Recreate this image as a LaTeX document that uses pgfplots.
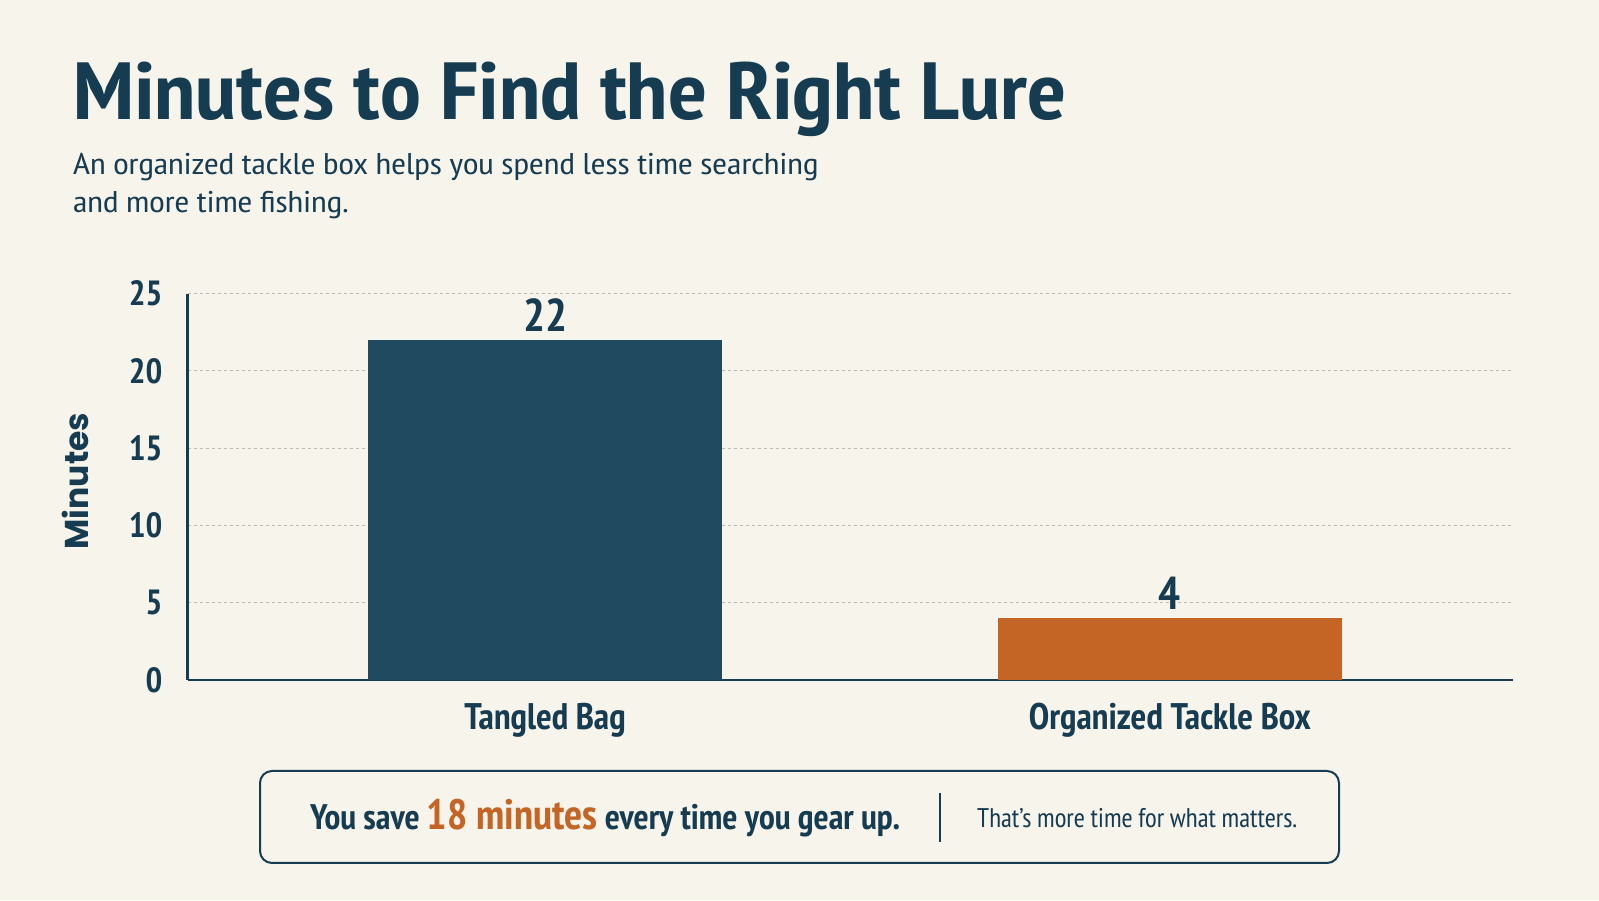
\documentclass[border=0pt]{standalone}
\usepackage{fontspec}
\usepackage{graphicx}
\usepackage{pgfplots}
\pgfplotsset{compat=1.18}
\IfFontExistsTF{PT Sans Narrow}{\setmainfont{PT Sans Narrow}}{\setmainfont{Fira Sans}}
\newfontfamily\labelfont{Poppins}
\definecolor{bg}{HTML}{F7F4EC}
\definecolor{barnavy}{HTML}{1F4A60}
\definecolor{textnavy}{HTML}{163C52}
\definecolor{barorange}{HTML}{C46425}
\definecolor{gridc}{HTML}{BDBAB3}
\begin{document}
\begin{tikzpicture}
\fill[bg] (0,0) rectangle (1599pt,900pt);
\begin{axis}[
  at={(187.6pt,220pt)}, anchor=south west,
  scale only axis, width=1325.4pt, height=386.3pt,
  xmin=-0.572, xmax=1.549, ymin=0, ymax=25,
  axis x line=bottom, axis y line=left,
  axis line style={-, draw=textnavy, line width=2.5pt},
  major tick length=0pt,
  ytick={0,5,10,15,20,25}, yticklabels={0,5,10,15,20,25},
  yticklabel style={font=\bfseries\fontsize{35}{35}\selectfont, text=textnavy, anchor=east, inner sep=0pt, xshift=-25pt},
  xtick={0,1}, xticklabels={Tangled Bag, Organized Tackle Box},
  xticklabel style={font=\bfseries\fontsize{37}{37}\selectfont, text=textnavy, anchor=base, inner sep=0pt, yshift=-50pt},
  ymajorgrids, grid style={dashed, gridc, line width=1pt},
  clip=false,
  nodes near coords={\pgfmathprintnumber[assume math mode=true]{\pgfplotspointmeta}},
  nodes near coords style={font=\bfseries\fontsize{46}{46}\selectfont, text=textnavy, anchor=south, inner sep=0pt, yshift=8pt},
]
\addplot[ybar, bar width=354pt, bar shift=0pt, fill=barnavy, draw=none] coordinates {(0,22)};
\addplot[ybar, bar width=344pt, bar shift=0pt, fill=barorange, draw=none] coordinates {(1,4)};
\end{axis}
\node[anchor=base west, inner sep=0pt, text=textnavy, font=\bfseries\fontsize{81}{81}\selectfont] at (73pt,780pt) {\scalebox{1.133}[1]{Minutes to Find the Right Lure}};
\node[anchor=base west, inner sep=0pt, text=textnavy, font=\fontsize{30}{30}\selectfont] at (73pt,725pt) {\scalebox{1.19}[1]{An organized tackle box helps you spend less time searching}};
\node[anchor=base west, inner sep=0pt, text=textnavy, font=\fontsize{30}{30}\selectfont] at (73pt,687pt) {\scalebox{1.19}[1]{and more time fishing.}};
\node[rotate=90, inner sep=0pt, text=textnavy, font=\labelfont\bfseries\fontsize{33}{33}\selectfont] at (75pt,419pt) {Minutes};
\draw[textnavy, line width=2pt, rounded corners=12pt, fill=bg] (260pt,37pt) rectangle (1339pt,129pt);
\node[anchor=base west, inner sep=0pt, text=textnavy, font=\bfseries\fontsize{35.5}{35.5}\selectfont] at (310pt,70pt) {You save {\color{barorange}\fontsize{42.5}{42.5}\selectfont 18 minutes} every time you gear up.};
\draw[textnavy, line width=2pt] (940pt,58pt) -- (940pt,107pt);
\node[anchor=base west, inner sep=0pt, text=textnavy, font=\fontsize{27}{27}\selectfont] at (977pt,72pt) {That’s more time for what matters.};
\end{tikzpicture}
\end{document}
